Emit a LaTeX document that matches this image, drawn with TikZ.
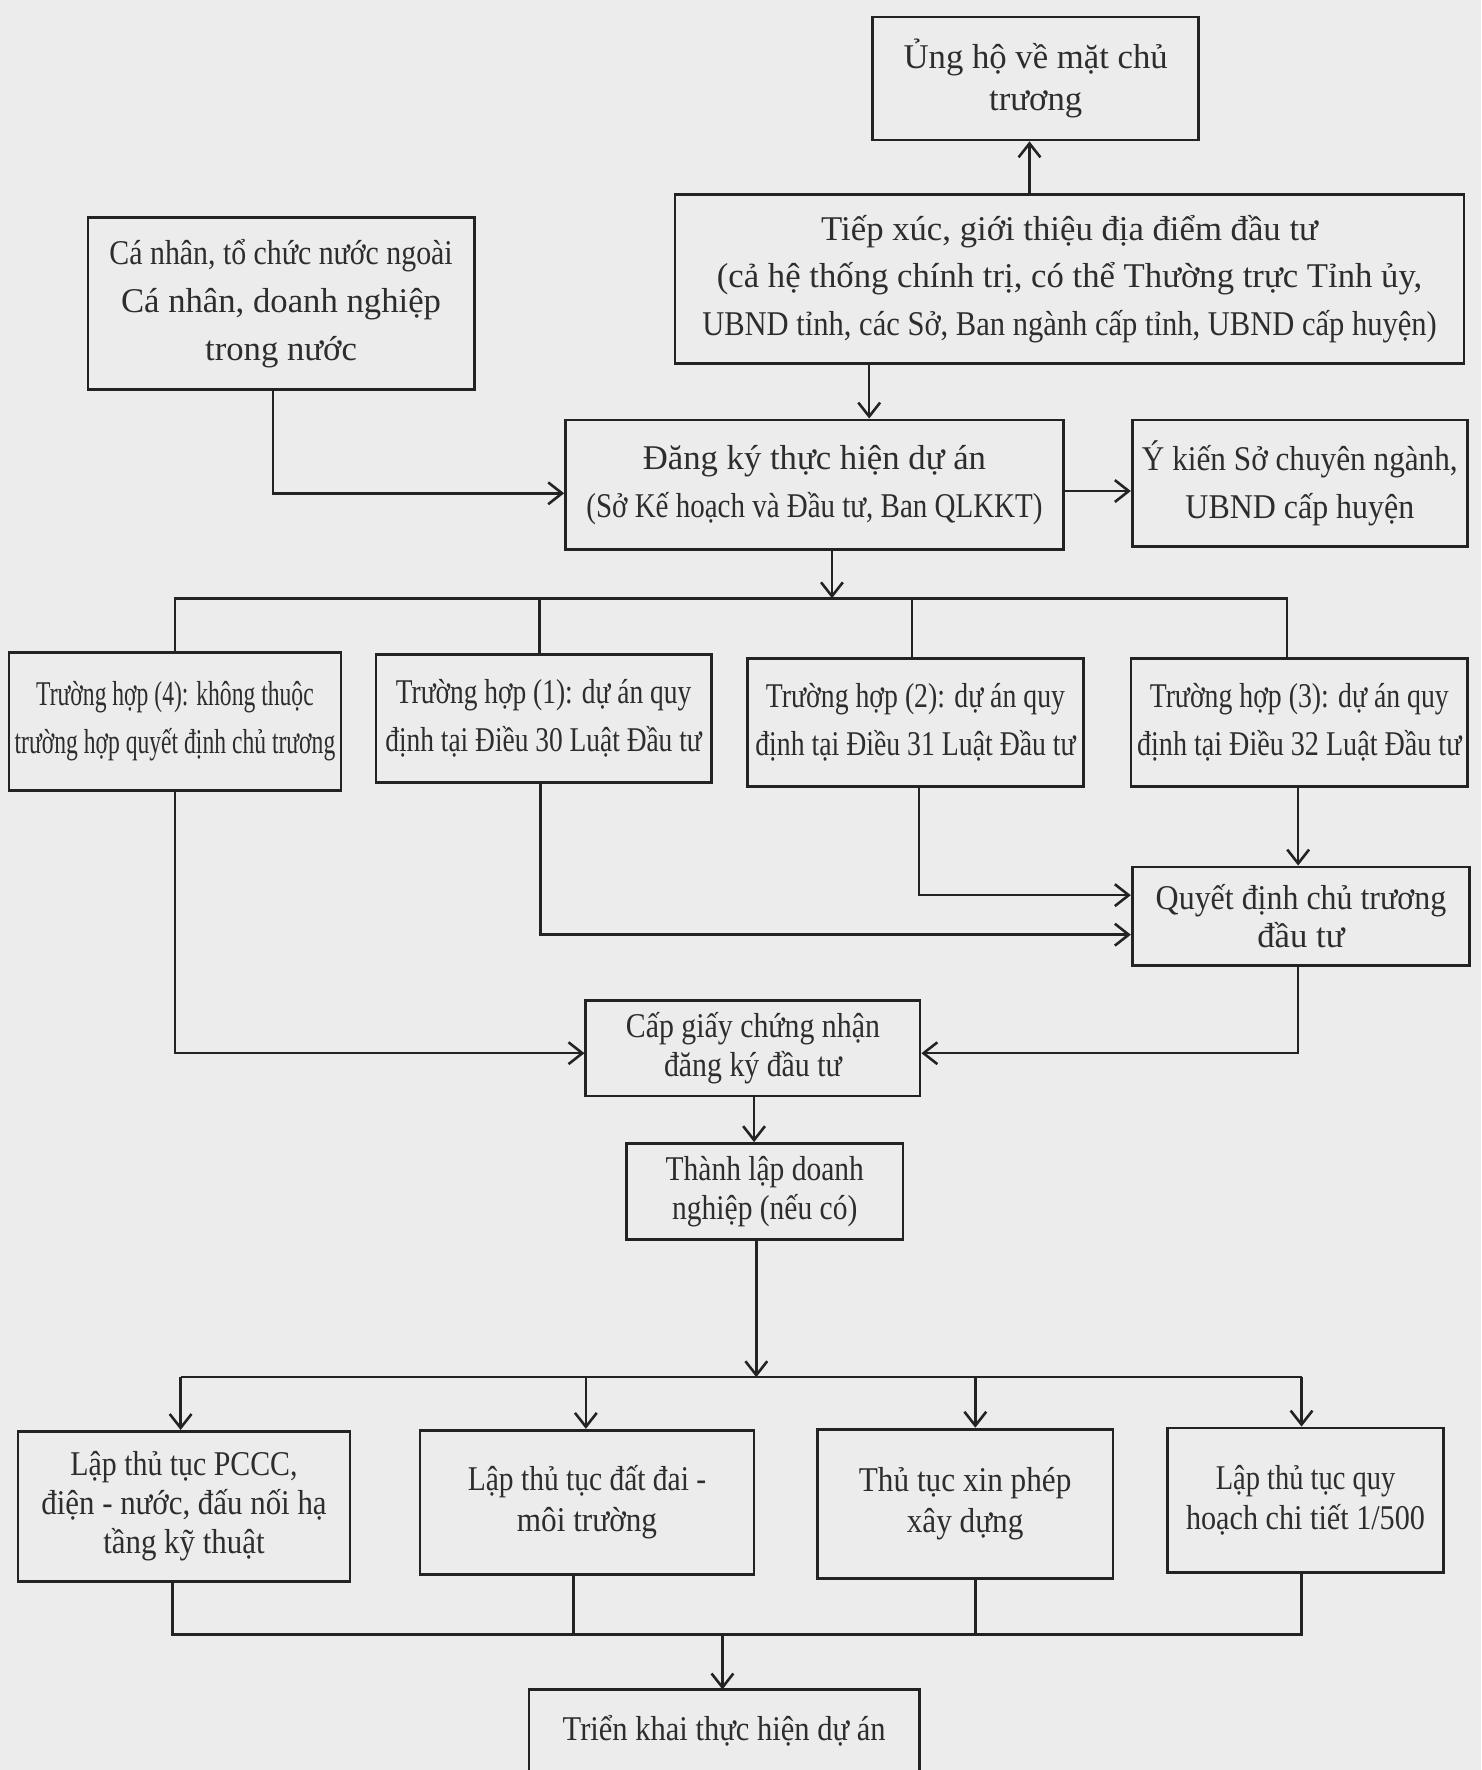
\documentclass[tikz,border=0pt]{standalone}
\usepackage{fontspec}
\setmainfont{Liberation Serif}
\usepackage{graphicx}
\usetikzlibrary{arrows.meta}
\definecolor{paper}{RGB}{236,236,236}
\definecolor{ink}{RGB}{35,35,35}
\definecolor{txt}{RGB}{45,45,45}
\newcommand{\hsq}[2]{\scalebox{#1}[1]{#2}}
\begin{document}
\begin{tikzpicture}[x=0.02cm,y=-0.02cm,
  box/.style={draw=ink, line width=1.4pt, inner sep=0pt, align=center, text=txt},
  sz/.style 2 args={minimum width=#1*0.02cm, minimum height=#2*0.02cm},
  fA/.style={font=\fontsize{17.5}{21.6}\selectfont},
  fB/.style={font=\fontsize{17.5}{24}\selectfont},
  fC/.style={font=\fontsize{17.5}{19.6}\selectfont},
  fD/.style={font=\fontsize{17.5}{20.6}\selectfont},
  ln/.style={draw=ink, line width=1.3pt},
  arr/.style={ln, -{Straight Barb[length=7pt,width=11pt]}}]
\fill[paper] (0,0) rectangle (1312,1568);
\useasboundingbox (0,0) rectangle (1312,1568);

% nodes
\node[box,sz={289}{109},fA] (ung) at (917.5,69.5) {Ủng hộ về mặt chủ\\trương};
\node[box,sz={699}{150},fB] (tiep) at (947.5,247) {Tiếp xúc, giới thiệu địa điểm đầu tư\\(cả hệ thống chính trị, có thể Thường trực Tỉnh ủy,\\\hsq{0.88}{UBND tỉnh, các Sở, Ban ngành cấp tỉnh, UBND cấp huyện)}};
\node[box,sz={342}{152},fB] (canhan) at (249,269) {\hsq{0.86}{Cá nhân, tổ chức nước ngoài}\\Cá nhân, doanh nghiệp\\trong nước};
\node[box,sz={441}{115},fB] (dangky) at (721.5,429.5) {Đăng ký thực hiện dự án\\\hsq{0.835}{(Sở Kế hoạch và Đầu tư, Ban QLKKT)}};
\node[box,sz={297}{112},fB] (ykien) at (1151.5,428) {\hsq{0.9}{Ý kiến Sở chuyên ngành,}\\\hsq{0.92}{UBND cấp huyện}};
\node[box,sz={294}{122},fB] (th4) at (155,639) {\hsq{0.68}{Trường hợp (4): không thuộc}\\\hsq{0.68}{trường hợp quyết định chủ trương}};
\node[box,sz={297}{113},fB] (th1) at (481.5,636.5) {\hsq{0.79}{Trường hợp (1): dự án quy}\\\hsq{0.79}{định tại Điều 30 Luật Đầu tư}};
\node[box,sz={298}{114},fB] (th2) at (811,640) {\hsq{0.8}{Trường hợp (2): dự án quy}\\\hsq{0.8}{định tại Điều 31 Luật Đầu tư}};
\node[box,sz={298}{114},fB] (th3) at (1151,640) {\hsq{0.8}{Trường hợp (3): dự án quy}\\\hsq{0.81}{định tại Điều 32 Luật Đầu tư}};
\node[box,sz={299}{87},fC] (qd) at (1152.5,811.5) {\hsq{0.92}{Quyết định chủ trương}\\đầu tư};
\node[box,sz={296}{85},fC] (cap) at (667,928.5) {\hsq{0.86}{Cấp giấy chứng nhận}\\\hsq{0.86}{đăng ký đầu tư}};
\node[box,sz={245}{85},fC] (tl) at (677.5,1055.5) {\hsq{0.85}{Thành lập doanh}\\\hsq{0.85}{nghiệp (nếu có)}};
\node[box,sz={294}{133},fC] (la) at (163,1334.5) {\hsq{0.86}{Lập thủ tục PCCC,}\\\hsq{0.89}{điện - nước, đấu nối hạ}\\\hsq{0.89}{tầng kỹ thuật}};
\node[box,sz={296}{128},fD] (lb) at (520,1331) {\hsq{0.85}{Lập thủ tục đất đai -}\\\hsq{0.9}{môi trường}};
\node[box,sz={262}{132},fD] (lc) at (855,1332) {\hsq{0.9}{Thủ tục xin phép}\\\hsq{0.9}{xây dựng}};
\node[box,sz={245}{128},fD] (ld) at (1156.5,1329) {\hsq{0.82}{Lập thủ tục quy}\\\hsq{0.87}{hoạch chi tiết 1/500}};
\node[sz={345}{72},fB,text=txt,inner sep=0pt] (tk) at (641.5,1533) {\hsq{0.88}{Triển khai thực hiện dự án}};
\draw[draw=ink,line width=1.4pt] ([yshift=-1cm]tk.south west) -- (tk.north west) -- (tk.north east) -- ([yshift=-1cm]tk.south east);

% connectors
\draw[arr] (912,0 |- tiep.north) -- (912,0 |- ung.south);
\draw[arr] (770,0 |- tiep.south) -- (770,0 |- dangky.north);
\draw[arr] (242,0 |- canhan.south) |- (0,437 -| dangky.west);
\draw[arr] (0,435 -| dangky.east) -- (0,435 -| ykien.west);

\coordinate (b1) at (737,530);
\draw[arr] (737,0 |- dangky.south) -- (b1);
\draw[ln] (155,0 |- th4.north) |- (1140,530) -- (1140,0 |- th3.north);
\draw[ln] (478,0 |- th1.north) -- (478,530);
\draw[ln] (808,0 |- th2.north) -- (808,530);

\draw[arr] (1150,0 |- th3.south) -- (1150,0 |- qd.north);
\draw[arr] (814,0 |- th2.south) |- (0,793 -| qd.west);
\draw[arr] (479,0 |- th1.south) |- (0,828 -| qd.west);
\draw[arr] (155,0 |- th4.south) |- (0,933 -| cap.west);
\draw[arr] (1150,0 |- qd.south) |- (0,933 -| cap.east);
\draw[arr] (668,0 |- cap.south) -- (668,0 |- tl.north);

\coordinate (b2) at (670,1220);
\draw[arr] (670,0 |- tl.south) -- (b2);
\draw[ln] (160,1220) -- (1153,1220);
\draw[arr] (160,1220) -- (160,0 |- la.north);
\draw[arr] (519,1220) -- (519,0 |- lb.north);
\draw[arr] (864,1220) -- (864,0 |- lc.north);
\draw[arr] (1153,1220) -- (1153,0 |- ld.north);

\draw[ln] (153,0 |- la.south) |- (1153,1448) -- (1153,0 |- ld.south);
\draw[ln] (508,0 |- lb.south) -- (508,1448);
\draw[ln] (864,0 |- lc.south) -- (864,1448);
\draw[arr] (640,1448) -- (640,0 |- tk.north);
\end{tikzpicture}
\end{document}
